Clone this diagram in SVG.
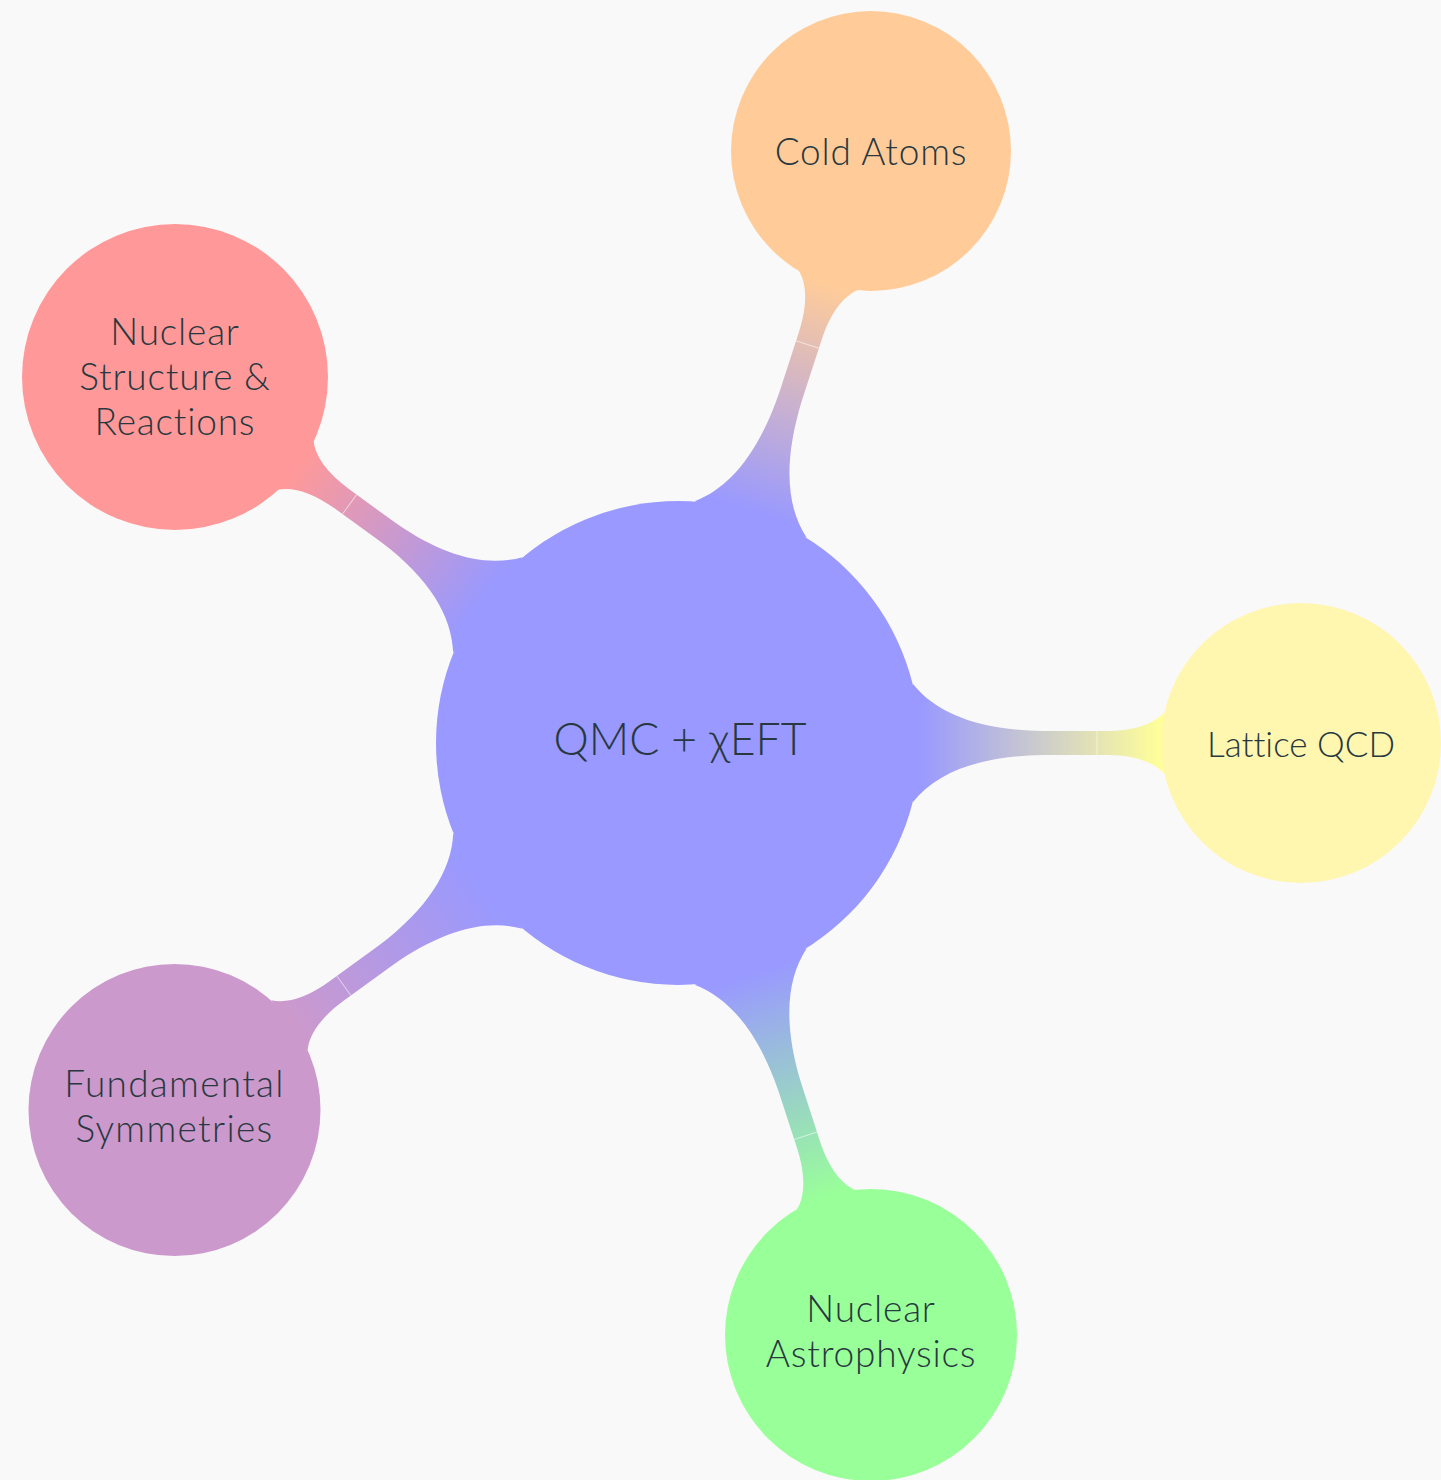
<svg xmlns="http://www.w3.org/2000/svg" width="1441" height="1480" viewBox="0 0 1441 1480">
  <style>
    .label { font-family: Lato, "Open Sans", "Liberation Sans", sans-serif; font-weight: 300; fill: #283840; text-anchor: middle; font-variant-ligatures: none; }
    .small { font-size: 37px; letter-spacing: 0.8px; }
    .big { font-size: 44.5px; }
    .seam { stroke: #ffffff; stroke-opacity: 0.55; stroke-width: 1; }
  </style>
  <defs>
    <!-- gradients run along each connector's local x axis (root centre at origin) -->
    <linearGradient id="g-cold" gradientUnits="userSpaceOnUse" x1="242" y1="0" x2="483" y2="0">
      <stop offset="0" stop-color="#9999ff"/>
      <stop offset="1" stop-color="#ffcc99"/>
    </linearGradient>
    <linearGradient id="g-lattice" gradientUnits="userSpaceOnUse" x1="242" y1="0" x2="483" y2="0">
      <stop offset="0" stop-color="#9999ff"/>
      <stop offset="1" stop-color="#ffff99"/>
    </linearGradient>
    <linearGradient id="g-astro" gradientUnits="userSpaceOnUse" x1="242" y1="0" x2="477" y2="0">
      <stop offset="0" stop-color="#9999ff"/>
      <stop offset="1" stop-color="#99ff99"/>
    </linearGradient>
    <linearGradient id="g-fund" gradientUnits="userSpaceOnUse" x1="242" y1="0" x2="477" y2="0">
      <stop offset="0" stop-color="#9999ff"/>
      <stop offset="1" stop-color="#cc99cc"/>
    </linearGradient>
    <linearGradient id="g-struct" gradientUnits="userSpaceOnUse" x1="242" y1="0" x2="470" y2="0">
      <stop offset="0" stop-color="#9999ff"/>
      <stop offset="1" stop-color="#ff9999"/>
    </linearGradient>
  </defs>

  <rect width="1441" height="1480" fill="#faf9fa"/>

  <g id="connectors">
    <!-- child radius 140 -->
    <g id="edge-cold-atoms" transform="translate(678,743) rotate(-72)">
      <path fill="url(#g-cold)" d="M235,-59 C258,-30 300,-13 365,-12 L428,-12 C456,-12 476,-19 486.5,-31 L486.5,31 C476,19 456,12 428,12 L365,12 C300,13 258,30 235,59 Z"/>
      <line class="seam" x1="419" y1="-12" x2="419" y2="12"/>
    </g>
    <g id="edge-lattice-qcd" transform="translate(678,743)">
      <path fill="url(#g-lattice)" d="M235,-59 C258,-30 300,-13 365,-12 L428,-12 C456,-12 476,-19 486.5,-31 L486.5,31 C476,19 456,12 428,12 L365,12 C300,13 258,30 235,59 Z"/>
      <line class="seam" x1="419" y1="-12" x2="419" y2="12"/>
    </g>
    <!-- child radius 146 -->
    <g id="edge-nuclear-astrophysics" transform="translate(678,743) rotate(72)">
      <path fill="url(#g-astro)" d="M235,-59 C258,-30 300,-13 362,-12 L422,-12 C450,-12 470,-19 480.3,-31 L480.3,31 C470,19 450,12 422,12 L362,12 C300,13 258,30 235,59 Z"/>
      <line class="seam" x1="413" y1="-12" x2="413" y2="12"/>
    </g>
    <g id="edge-fundamental-symmetries" transform="translate(678,743) rotate(144)">
      <path fill="url(#g-fund)" d="M235,-59 C258,-30 300,-13 362,-12 L422,-12 C450,-12 470,-19 480.3,-31 L480.3,31 C470,19 450,12 422,12 L362,12 C300,13 258,30 235,59 Z"/>
      <line class="seam" x1="413" y1="-12" x2="413" y2="12"/>
    </g>
    <!-- child radius 153 -->
    <g id="edge-nuclear-structure" transform="translate(678,743) rotate(-144)">
      <path fill="url(#g-struct)" d="M235,-59 C258,-30 298,-13 358,-12 L415,-12 C443,-12 463,-19 473.2,-31 L473.2,31 C463,19 443,12 415,12 L358,12 C298,13 258,30 235,59 Z"/>
      <line class="seam" x1="406" y1="-12" x2="406" y2="12"/>
    </g>
  </g>

  <g id="node-root">
    <circle cx="678" cy="743" r="242" fill="#9999ff"/>
    <text class="label big" x="680" y="755">QMC + χEFT</text>
  </g>

  <g id="node-cold-atoms">
    <circle cx="871" cy="151" r="140" fill="#ffcc99"/>
    <text class="label small" x="871" y="165">Cold Atoms</text>
  </g>

  <g id="node-lattice-qcd">
    <circle cx="1301" cy="743" r="140" fill="#fff6b0"/>
    <text class="label small" x="1301" y="757" style="font-size:35px;letter-spacing:0">Lattice QCD</text>
  </g>

  <g id="node-nuclear-astrophysics">
    <circle cx="871" cy="1335" r="146" fill="#99ff99"/>
    <text class="label small" x="871" y="1322">Nuclear<tspan x="871" dy="45">Astrophysics</tspan></text>
  </g>

  <g id="node-fundamental-symmetries">
    <circle cx="174.5" cy="1110" r="146" fill="#cc99cc"/>
    <text class="label small" x="174.5" y="1097" style="letter-spacing:1.3px">Fundamental<tspan x="174.5" dy="45">Symmetries</tspan></text>
  </g>

  <g id="node-nuclear-structure">
    <circle cx="175" cy="377" r="153" fill="#ff9999"/>
    <text class="label small" x="175" y="345">Nuclear<tspan x="175" dy="45">Structure &amp;</tspan><tspan x="175" dy="45">Reactions</tspan></text>
  </g>
</svg>
